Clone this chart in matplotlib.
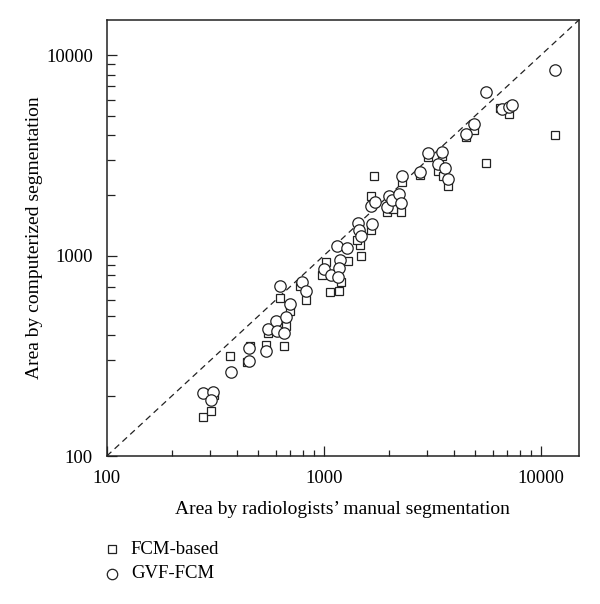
import numpy as np
import matplotlib
matplotlib.use("Agg")
import matplotlib.pyplot as plt
from matplotlib.ticker import FixedLocator, NullFormatter, FuncFormatter

plt.rcParams['font.family'] = ['Liberation Serif', 'DejaVu Serif']

# manual area (x) vs computerized area (y)
gvf_x = [277, 310, 303, 372, 450, 454, 540, 556, 601, 607, 656, 670, 695, 630,
         793, 827, 1003, 1077, 1189, 1169, 1160, 1156, 1285, 1445, 1460, 1485,
         1663, 1647, 1725, 1951, 2000, 2072, 2232, 2265, 2303, 2787, 3013, 3522,
         3375, 3623, 3752, 4528, 4912, 5620, 6610, 7100, 7350, 11640]
gvf_y = [207, 209, 191, 263, 345, 299, 335, 432, 471, 422, 411, 494, 575, 703,
         738, 668, 861, 797, 948, 867, 782, 1113, 1092, 1456, 1339, 1250,
         1445, 1778, 1854, 1750, 1980, 1905, 2019, 1834, 2493, 2620, 3262, 3296,
         2869, 2723, 2400, 4055, 4550, 6556, 5412, 5540, 5623, 8414]

fcm_x = [277, 303, 313, 369, 442, 457, 540, 556, 656, 668, 630, 695, 777, 832,
         986, 1021, 1070, 1169, 1198, 1290, 1469, 1485, 1419, 1652, 1647, 1711,
         1951, 2265, 2094, 2303, 2780, 3035, 3350, 3557, 3752, 3522, 4528, 4943,
         5597, 6500, 7100, 11640]
fcm_y = [157, 168, 202, 316, 296, 352, 359, 411, 356, 443, 614, 527, 703, 598,
         803, 929, 658, 668, 738, 944, 1135, 1000, 1202, 1349, 1982, 2493,
         1652, 1652, 1710, 2333, 2521, 3102, 2642, 2493, 2222, 3138, 3905, 4217,
         2904, 5470, 5110, 4013]

lims = [100, 15000]
major = [100, 1000, 10000]

fig = plt.figure(figsize=(6.0, 6.04), dpi=100)
ax = fig.add_axes([0.178, 0.245, 0.787, 0.722])

ax.plot(lims, lims, ls=(0, (5, 3.5)), color='#222222', lw=0.9, zorder=1)
ax.plot(fcm_x, fcm_y, ls='none', marker='s', ms=5.6, mfc='white',
        mec='#222222', mew=0.9, zorder=2)
ax.plot(gvf_x, gvf_y, ls='none', marker='o', ms=8.2, mfc='white',
        mec='#222222', mew=0.9, zorder=3)

ax.set_xscale('log')
ax.set_yscale('log')
ax.set_xlim(lims)
ax.set_ylim(lims)

fmt = FuncFormatter(lambda v, p: '%d' % v)
for a in (ax.xaxis, ax.yaxis):
    a.set_major_locator(FixedLocator(major))
    a.set_major_formatter(fmt)
    a.set_minor_locator(FixedLocator([m * d for d in major for m in range(2, 10)]))
    a.set_minor_formatter(NullFormatter())

ax.tick_params(which='both', direction='in', colors='#222222', labelsize=13.5,
               labelcolor='black')
ax.tick_params(axis='x', which='major', length=7, width=0.9, pad=10)
ax.tick_params(axis='x', which='minor', length=4, width=0.9)
ax.tick_params(axis='y', which='major', length=7, width=0.9, pad=10)
ax.tick_params(axis='y', which='minor', length=6, width=0.9)
for s in ax.spines.values():
    s.set_linewidth(1.1)
    s.set_color('#222222')

ax.set_xlabel("Area by radiologists\u2019 manual segmentation", fontsize=14, labelpad=10)
ax.set_ylabel("Area by computerized segmentation", fontsize=14, labelpad=2)

# legend below the axes
fig.lines.append(plt.Line2D([0.187], [1 - 549 / 604], transform=fig.transFigure,
                            marker='s', ms=6, mfc='white', mec='#222222', mew=0.9))
fig.lines.append(plt.Line2D([0.187], [1 - 574 / 604], transform=fig.transFigure,
                            marker='o', ms=7.5, mfc='white', mec='#222222', mew=0.9))
fig.text(0.218, 1 - 549 / 604, 'FCM-based', fontsize=13.5, va='center')
fig.text(0.218, 1 - 574 / 604, 'GVF-FCM', fontsize=13.5, va='center')

fig.savefig('out.png', dpi=100)
